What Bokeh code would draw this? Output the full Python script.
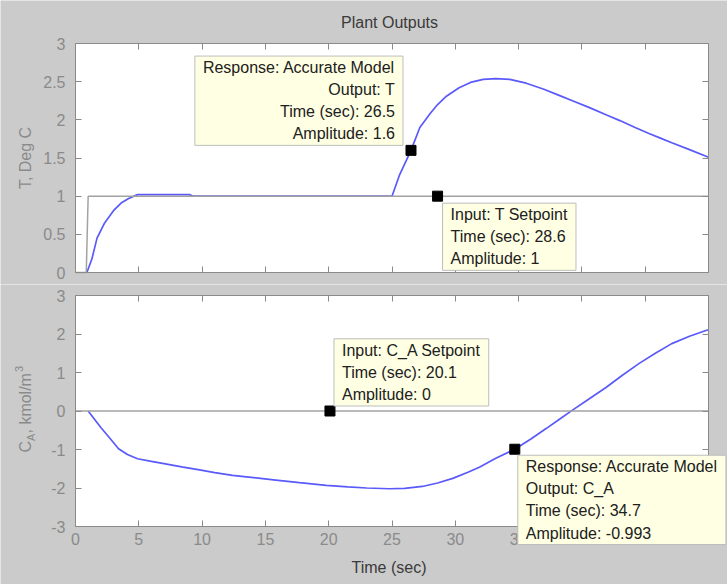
import math
from bokeh.plotting import figure
from bokeh.layouts import column
from bokeh.models import (Label, LinearAxis, FixedTicker, Range1d, BoxAnnotation,
                          CustomJSTickFormatter)
from bokeh.embed import file_html
from bokeh.resources import INLINE

# ---------------- data ----------------
time_T = [0.9, 1.3, 1.7, 2.3, 3.0, 3.6, 4.2, 4.9, 9.0, 9.3, 25.0, 25.6, 26.5, 27.2, 28.0,
          28.6, 29.3, 30.3, 31.2, 32.2, 33.2, 34.3, 35.6, 37.0, 38.2, 39.4, 40.6, 42.0, 43.0,
          44.2, 45.3, 46.2, 47.1, 48.5, 50.0]
T_response = [0, 0.18, 0.45, 0.65, 0.81, 0.91, 0.97, 1.02, 1.02, 1.0, 1.0, 1.28, 1.6, 1.9,
              2.08, 2.2, 2.31, 2.42, 2.49, 2.53, 2.54, 2.53, 2.48, 2.40, 2.32, 2.24, 2.16, 2.06,
              1.99, 1.90, 1.82, 1.76, 1.70, 1.61, 1.51]

time_T_setpoint = [0, 0.85, 1.0, 50]
T_setpoint = [0, 0, 1, 1]

time_CA = [1.0, 2.0, 2.75, 3.4, 4.1, 4.9, 6.0, 7.2, 8.5, 9.8, 11.0, 12.4, 13.5, 14.6, 16.0,
           17.7, 19.8, 21.5, 23.0, 24.8, 26.0, 27.4, 28.6, 29.8, 31.0, 31.9, 33.2, 34.7, 36.0,
           37.2, 38.2, 39.2, 40.5, 41.9, 43.2, 44.5, 45.8, 47.1, 48.5, 49.8, 50.0]
CA_response = [0, -0.43, -0.72, -0.98, -1.13, -1.24, -1.31, -1.38, -1.46, -1.53, -1.60,
               -1.67, -1.71, -1.75, -1.80, -1.86, -1.93, -1.97, -2.0, -2.02, -2.01, -1.96,
               -1.87, -1.75, -1.59, -1.46, -1.23, -0.993, -0.72, -0.45, -0.22, 0.01, 0.30,
               0.61, 0.93, 1.23, 1.50, 1.75, 1.94, 2.09, 2.11]

time_CA_setpoint = [0, 50]
CA_setpoint = [0, 0]

# data tips: which panel, header lines, time, amplitude
tip_panel = ["T", "T", "CA", "CA"]
tip_headers = [["Response: Accurate Model", "Output: T"],
               ["Input: T Setpoint"],
               ["Input: C_A Setpoint"],
               ["Response: Accurate Model", "Output: C_A"]]
tip_time = [26.5, 28.6, 20.1, 34.7]
tip_amplitude = [1.6, 1, 0, -0.993]

x_ticks = [0, 5, 10, 15, 20, 25, 30, 35, 40, 45, 50]
x_tick_labels = ["0", "5", "10", "15", "20", "25", "30", "35", "40", "45", "50"]
T_ticks = [0, 0.5, 1, 1.5, 2, 2.5, 3]
T_tick_labels = ["0", "0.5", "1", "1.5", "2", "2.5", "3"]
CA_ticks = [-3, -2, -1, 0, 1, 2, 3]
CA_tick_labels = ["-3", "-2", "-1", "0", "1", "2", "3"]

title_text = "Plant Outputs"
xlabel_text = "Time (sec)"
T_label_text = "T, Deg C"
CA_label_parts = ["C", "A", ", kmol/m", "3"]   # C_A, kmol/m^3

# ---------------- style / layout ----------------
FONT = "Liberation Sans"
BG = "#cbcbcb"
AX = "#8a8a8a"
TICK_TXT = "#8a8a8a"
DARK = "#3a3a3a"
BLUE = "#5a5afb"
GRAY = "#a2a2a2"
TIP_BG = "#ffffe3"
TIP_BORDER = "#bdbdbd"
TIP_TXT = "#202020"

W = 727
PLOT_L, PLOT_R = 75, 708                  # page x of the axes box
H1, P1_TOP, P1_BOT = 284, 43, 272         # top canvas height, box top/bottom (canvas px)
H2, P2_TOP, P2_BOT = 300, 11, 242         # bottom canvas height, box top/bottom (canvas px)

# tip placement (pixels relative to marker): x_offset, y_offset, align, baseline
tip_layout = [(-8, 5, "right", "bottom"),
              (5, -7, "left", "top"),
              (4, 5, "left", "bottom"),
              (3, -6, "left", "top")]


def style_axis(ax, ticks, labels=None, standoff=10):
    ax.ticker = FixedTicker(ticks=ticks)
    ax.axis_line_color = AX
    ax.major_tick_line_color = AX
    ax.major_tick_in = 6
    ax.major_tick_out = 0
    ax.minor_tick_line_color = None
    ax.bounds = (min(ticks), max(ticks))
    if labels is None:
        ax.formatter = CustomJSTickFormatter(code="return ''")
        ax.major_label_standoff = 0
    else:
        ax.major_label_overrides = {t: l for t, l in zip(ticks, labels)}
        ax.major_label_text_font = FONT
        ax.major_label_text_font_size = "16px"
        ax.major_label_text_color = TICK_TXT
        ax.major_label_standoff = standoff


def make_fig(h, box_top, box_bot, yticks, ylabels, xlabels):
    x0, x1 = min(x_ticks), max(x_ticks)
    y0, y1 = min(yticks), max(yticks)
    sx = (PLOT_R - PLOT_L) / (x1 - x0)
    sy = (box_bot - box_top) / (y1 - y0)
    xr = Range1d(x0 - PLOT_L / sx, x1 + (W - PLOT_R) / sx)
    yr = Range1d(y0 - (h - box_bot) / sy, y1 + box_top / sy)
    p = figure(width=W, height=h, x_range=xr, y_range=yr,
               output_backend="svg", toolbar_location=None, title_location=None,
               min_border=0, min_border_left=0, min_border_right=0,
               min_border_top=0, min_border_bottom=0,
               background_fill_color=BG, border_fill_color=BG, outline_line_color=None)
    p.xgrid.visible = False
    p.ygrid.visible = False
    p.add_layout(BoxAnnotation(left=x0, right=x1, bottom=y0, top=y1, fill_color="white",
                               fill_alpha=1.0, line_color=AX, line_width=1, level="underlay"))
    bx, lx = p.below[0], p.left[0]
    bx.fixed_location = y0
    lx.fixed_location = x0
    style_axis(bx, x_ticks, xlabels, standoff=6)
    style_axis(lx, yticks, ylabels, standoff=10)
    ax_top = LinearAxis(fixed_location=y1)
    ax_right = LinearAxis(fixed_location=x1)
    p.add_layout(ax_top, "above")
    p.add_layout(ax_right, "right")
    style_axis(ax_top, x_ticks, None)
    style_axis(ax_right, yticks, None)
    return p


p1 = make_fig(H1, P1_TOP, P1_BOT, T_ticks, T_tick_labels, None)
p2 = make_fig(H2, P2_TOP, P2_BOT, CA_ticks, CA_tick_labels, x_tick_labels)

p1.line(time_T, T_response, line_color=BLUE, line_width=1.7)
p1.line(time_T_setpoint, T_setpoint, line_color=GRAY, line_width=1.5)
p2.line(time_CA, CA_response, line_color=BLUE, line_width=1.7)
p2.line(time_CA_setpoint, CA_setpoint, line_color=GRAY, line_width=1.5)

panels = {"T": p1, "CA": p2}
for i in range(len(tip_time)):
    fig = panels[tip_panel[i]]
    fig.scatter([tip_time[i]], [tip_amplitude[i]], marker="square", size=10,
                fill_color="black", line_color="black")
    lines = tip_headers[i] + [f"Time (sec): {tip_time[i]:g}", f"Amplitude: {tip_amplitude[i]:g}"]
    dx, dy, align, base = tip_layout[i]
    fig.add_layout(Label(x=tip_time[i], y=tip_amplitude[i], x_offset=dx, y_offset=dy,
                         text="\n".join(lines), text_align=align, text_baseline=base,
                         text_font=FONT, text_font_size="16px", text_color=TIP_TXT,
                         text_line_height=1.3, background_fill_color=TIP_BG,
                         border_line_color=TIP_BORDER, border_line_width=1,
                         padding=(8, 3)))


def screen_label(fig, txt, x, y, size="16px", color=TICK_TXT, align="center", angle=0.0):
    fig.add_layout(Label(x=x, y=y, x_units="screen", y_units="screen", text=txt,
                         angle=angle, text_align=align, text_baseline="alphabetic",
                         text_font=FONT, text_font_size=size, text_color=color))


# title and axis labels (screen px from each canvas' bottom-left)
screen_label(p1, title_text, 389, H1 - 22, color=DARK)
screen_label(p1, T_label_text, 25, H1 - 157.5, angle=math.pi / 2)
screen_label(p2, xlabel_text, 388.5, 17, color=DARK)

ca_layout = [(25, 132, "16px"), (30.5, 143.5, "11px"), (25, 151, "16px"), (18.5, 212.5, "11px")]
for txt, (lx, ly, fs) in zip(CA_label_parts, ca_layout):
    screen_label(p2, txt, lx, ly, size=fs, align="left", angle=math.pi / 2)

layout = column(p1, p2, spacing=0)
open("out.html", "w").write(file_html(layout, INLINE))
